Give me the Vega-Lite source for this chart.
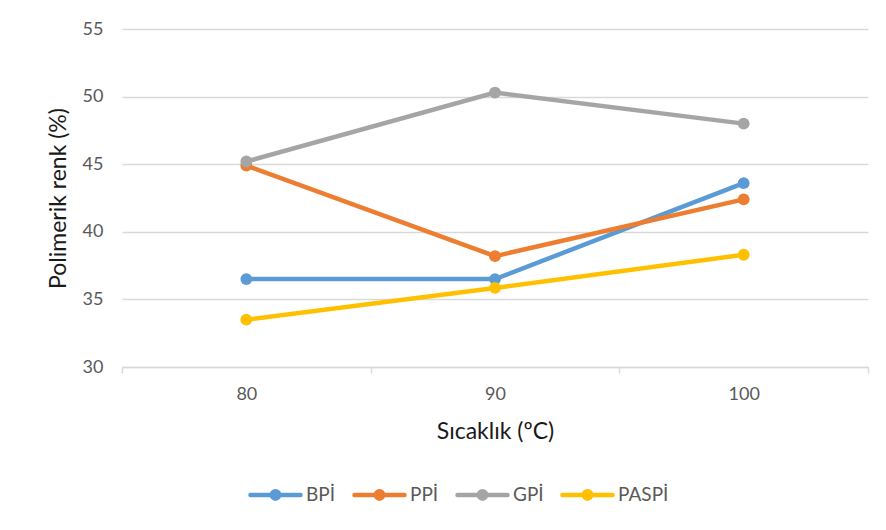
{
  "$schema": "https://vega.github.io/schema/vega-lite/v6.json",
  "width": 746,
  "height": 338,
  "autosize": "none",
  "padding": {"left": 122, "top": 29, "right": 18, "bottom": 163},
  "background": "white",
  "config": {
    "font": "Lato",
    "view": {"stroke": null}
  },
  "data": {
    "values": [
      {"temp": 80, "series": "BPİ", "value": 36.5},
      {"temp": 90, "series": "BPİ", "value": 36.5},
      {"temp": 100, "series": "BPİ", "value": 43.6},
      {"temp": 80, "series": "PPİ", "value": 44.9},
      {"temp": 90, "series": "PPİ", "value": 38.2},
      {"temp": 100, "series": "PPİ", "value": 42.4},
      {"temp": 80, "series": "GPİ", "value": 45.2},
      {"temp": 90, "series": "GPİ", "value": 50.3},
      {"temp": 100, "series": "GPİ", "value": 48.0},
      {"temp": 80, "series": "PASPİ", "value": 33.5},
      {"temp": 90, "series": "PASPİ", "value": 35.85},
      {"temp": 100, "series": "PASPİ", "value": 38.3}
    ]
  },
  "mark": {"type": "line", "strokeWidth": 4.5, "point": {"filled": true, "size": 140, "opacity": 1}},
  "encoding": {
    "x": {
      "field": "temp",
      "type": "quantitative",
      "scale": {"domain": [75, 105], "nice": false, "zero": false},
      "axis": {
        "values": [75, 80, 85, 90, 95, 100, 105],
        "labelExpr": "datum.value % 10 == 0 ? datum.label : ''",
        "tickOpacity": {"condition": {"test": "datum.value % 10 == 0", "value": 0}, "value": 1},
        "grid": false,
        "domainColor": "#d9d9d9",
        "domainWidth": 1.5,
        "tickColor": "#d9d9d9",
        "tickWidth": 1.5,
        "tickSize": 6,
        "labelFontSize": 18,
        "labelColor": "#595959",
        "labelPadding": 12,
        "title": "Sıcaklık (ºC)",
        "titleFontSize": 23,
        "titleFontWeight": "normal",
        "titleColor": "#1a1a1a",
        "titlePadding": 17
      }
    },
    "y": {
      "field": "value",
      "type": "quantitative",
      "scale": {"domain": [30, 55], "nice": false, "zero": false},
      "axis": {
        "values": [30, 35, 40, 45, 50, 55],
        "domain": false,
        "ticks": false,
        "gridColor": "#d9d9d9",
        "gridWidth": 1.5,
        "labelFontSize": 18,
        "labelColor": "#595959",
        "labelPadding": 19,
        "title": "Polimerik renk (%)",
        "titleFontSize": 23,
        "titleFontWeight": "normal",
        "titleColor": "#1a1a1a",
        "titlePadding": 12
      }
    },
    "color": {
      "field": "series",
      "type": "nominal",
      "scale": {
        "domain": ["BPİ", "PPİ", "GPİ", "PASPİ"],
        "range": ["#5B9BD5", "#ED7D31", "#A5A5A5", "#FFC000"]
      },
      "legend": {
        "title": null,
        "orient": "none",
        "legendX": 126,
        "legendY": 438,
        "direction": "horizontal",
        "columns": 4,
        "columnPadding": 9,
        "symbolType": "M-1,0 H1 M-0.15,0 A0.15,0.15 0 1,1 0.15,0 A0.15,0.15 0 1,1 -0.15,0 Z",
        "symbolSize": 2500,
        "symbolStrokeWidth": 4.5,
        "labelFontSize": 19,
        "labelColor": "#595959",
        "labelOffset": 3,
        "encode": {
          "symbols": {"update": {"fill": {"scale": "color", "field": "value"}, "strokeCap": {"value": "round"}, "opacity": {"value": 1}}}
        }
      }
    }
  }
}
